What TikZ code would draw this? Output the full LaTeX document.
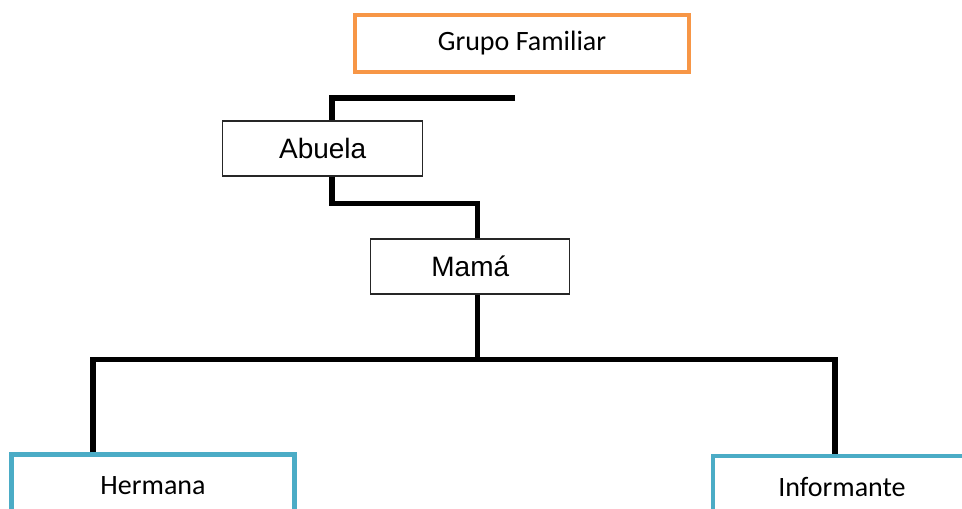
\documentclass[tikz,border=0pt]{standalone}
\usepackage{fontspec}
\setmainfont{Carlito}
\newfontfamily\arialf{Liberation Sans}
\definecolor{orgc}{HTML}{F79646}
\definecolor{bluc}{HTML}{4BACC6}
\begin{document}
\begin{tikzpicture}[x=1pt,y=-1pt,
  base/.style={draw, fill=white, inner sep=0pt, font=\fontsize{28}{34}\selectfont},
  orgbox/.style={base, draw=orgc, line width=4.7pt},
  blubox/.style={base, draw=bluc, line width=4.7pt},
  thinbox/.style={base, draw=black!85, line width=1.2pt, font=\arialf\fontsize{28}{34}\selectfont},
  conn/.style={draw=black, line width=5.5pt, line join=miter}]
\useasboundingbox (0,0) rectangle (962,509);
\node[orgbox, minimum width=334pt, minimum height=57pt] (gf) at (522,43.5) {Grupo Familiar};
\node[thinbox, minimum width=200pt, minimum height=55pt] (ab) at (322.7,148.4) {Abuela};
\node[thinbox, minimum width=199pt, minimum height=55pt] (mama) at (470.3,266.5) {Mamá};
\node[blubox, minimum width=283pt, minimum height=62pt] (herm) at (153,485.7) {Hermana};
\node[blubox, minimum width=258pt, minimum height=62pt] (inf) at (842,487) {Informante};
\coordinate (t) at (515,98);
\draw[conn] (t) -| ([xshift=9.3pt]ab.north);
\draw[conn] ([xshift=9.3pt]ab.south) -- ++(0,27) -| ([xshift=7pt]mama.north);
\draw[conn] ([xshift=7pt]mama.south) -- ++(0,65) coordinate (j);
\draw[conn] ([xshift=-60pt]herm.north) |- (j) -| ([xshift=-7pt]inf.north);
\end{tikzpicture}
\end{document}
